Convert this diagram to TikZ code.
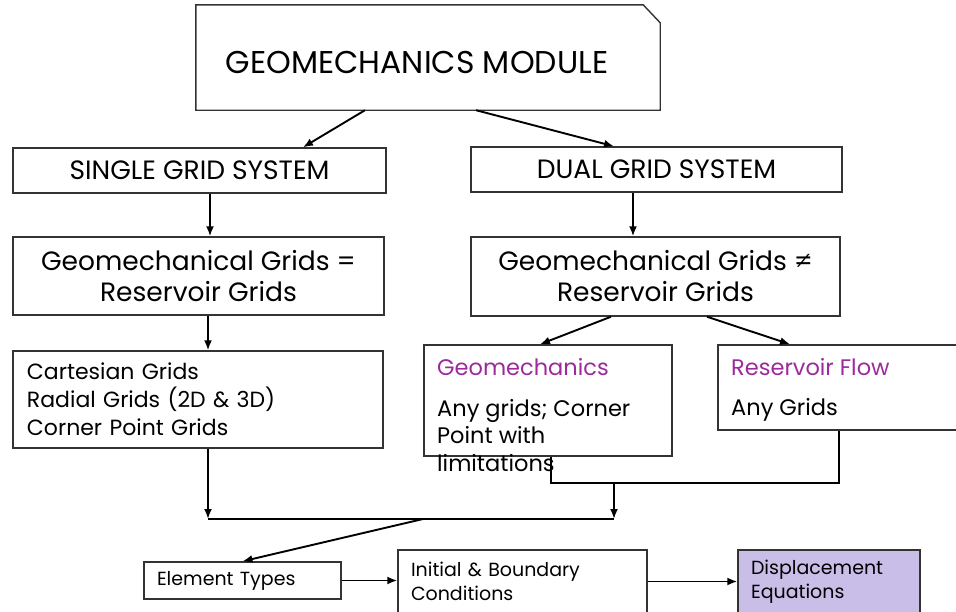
\documentclass[tikz,border=0pt]{standalone}
\usepackage{fontspec}
\setmainfont{Poppins}
\usetikzlibrary{arrows.meta,calc}

\definecolor{titlepurple}{HTML}{9C2A9C}
\definecolor{eqfill}{HTML}{C9BEE8}
\definecolor{edgegray}{HTML}{333333}

\tikzset{
    box/.style={draw=edgegray, line width=1.4pt, rectangle, inner sep=0pt},
    link/.style={->, line width=1.9pt},
    >={Latex[length=10pt,width=8pt]}
}

\begin{document}
\begin{tikzpicture}[x=1pt,y=-1pt]
    \clip (0,0) rectangle (956,611);
    \fill[white] (0,0) rectangle (956,611);

    % top
    \node[minimum width=464pt, minimum height=105pt, inner sep=0pt] (module) at (428,57.5) {};
    \draw[edgegray, line width=1.4pt] (module.south west) |- ([xshift=-17pt]module.north east)
        -- ([yshift=-18pt]module.north east) -- (module.south east) -- cycle;
    \node[font=\fontsize{31.5}{36}\selectfont] (moduletxt) at (417,62) {GEOMECHANICS MODULE};

    % grid systems
    \node[box, minimum width=373pt, minimum height=45pt, font=\fontsize{26.5}{30}\selectfont] (single) at (199.5,170.5) {SINGLE GRID SYSTEM};
    \node[box, minimum width=371pt, minimum height=45pt, font=\fontsize{26.5}{30}\selectfont] (dual) at (656.5,169.5) {DUAL GRID SYSTEM};

    \node[box, minimum width=371pt, minimum height=78pt, align=center, font=\fontsize{26.5}{31}\selectfont] (geq) at (198.5,276) {Geomechanical Grids =\\Reservoir Grids};
    \node[box, minimum width=369pt, minimum height=79pt, align=center, font=\fontsize{26.5}{31}\selectfont] (gneq) at (655.5,276.5) {Geomechanical Grids ≠\\Reservoir Grids};

    % grid types
    \node[box, minimum height=97pt, inner xsep=14pt, text width=342pt, align=left, font=\fontsize{22}{28}\selectfont] (cart) at (198,399.5) {Cartesian Grids\\Radial Grids (2D \& 3D)\\Corner Point Grids};

    \node[box, minimum width=248pt, minimum height=111pt] (geo) at (548,400.5) {};
    \node[anchor=west, inner sep=0pt, text=titlepurple, font=\fontsize{22.5}{28}\selectfont] (geotitle) at (437,367) {Geomechanics};
    \node[anchor=north west, inner sep=0pt, align=left, font=\fontsize{22.5}{27.5}\selectfont] (geotxt) at (437,399) {Any grids; Corner\\Point with\\limitations};

    \node[box, minimum width=252pt, minimum height=85pt] (flow) at (844,387.5) {};
    \node[anchor=west, inner sep=0pt, text=titlepurple, font=\fontsize{22.5}{28}\selectfont] (flowtitle) at (731,367) {Reservoir Flow};
    \node[anchor=west, inner sep=0pt, font=\fontsize{22.5}{28}\selectfont] (flowtxt) at (731,410) {Any Grids};

    % bottom row
    \node[box, minimum height=37pt, inner xsep=13pt, text width=171pt, align=left, font=\fontsize{19}{24}\selectfont] (elem) at (242.5,580.5) {Element Types};
    \node[box, minimum height=63pt, inner xsep=13pt, text width=223pt, align=left, font=\fontsize{19}{24}\selectfont] (init) at (522.5,581.5) {Initial \& Boundary\\Conditions};
    \node[box, fill=eqfill, minimum height=63pt, inner xsep=13pt, text width=156pt, align=left, font=\fontsize{19}{24}\selectfont] (disp) at (829,581.5) {Displacement\\Equations};

    \coordinate (join) at (614,483);
    \coordinate (merge) at (614,519);
    \coordinate (leftend) at (208,519);
    \coordinate (split) at (423,519);

    \draw[link] ([xshift=-63pt]module.south) -- ([xshift=103.5pt]single.north);
    \draw[link] ([xshift=48pt]module.south) -- ([xshift=-42.5pt]dual.north);
    \draw[link] ([xshift=10.5pt]single.south) -- ([xshift=10.5pt]single.south |- geq.north);
    \draw[link] ([xshift=-23.5pt]dual.south) -- ([xshift=-23.5pt]dual.south |- gneq.north);
    \draw[link] ([xshift=9.5pt]geq.south) -- ([xshift=9.5pt]geq.south |- cart.north);
    \draw[link] ([xshift=-44.5pt]gneq.south) -- ([xshift=-8pt]geo.north);
    \draw[link] ([xshift=51.5pt]gneq.south) -- ([xshift=-54pt]flow.north);

    \draw[line width=1.9pt] ([xshift=3pt]geo.south) |- (join) -| ([xshift=-5pt]flow.south);
    \draw[link] (join) -- (merge);
    \draw[link] ([xshift=10pt]cart.south) -- (leftend);
    \draw[line width=1.9pt] (leftend) -- (merge);
    \draw[link] (split) -- (elem.north);
    \draw[link] (elem.east) -- (elem.east -| init.west);
    \draw[link] (init.east) -- (init.east -| disp.west);
\end{tikzpicture}
\end{document}
